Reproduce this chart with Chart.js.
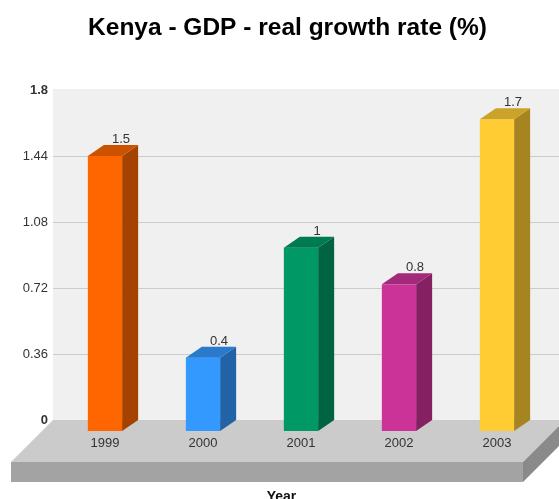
<!DOCTYPE html>
<html>
<head>
<meta charset="utf-8">
<title>Kenya - GDP - real growth rate (%)</title>
<script src="https://cdn.jsdelivr.net/npm/chart.js"></script>
<style>
  html, body { margin: 0; padding: 0; background: #fff; }
</style>
</head>
<body>
<canvas id="chart" width="559" height="499"></canvas>
<script>
// data
const years = ['1999', '2000', '2001', '2002', '2003'];
const growth = [1.5, 0.4, 1, 0.8, 1.7];
const yTicks = [0, 0.36, 0.72, 1.08, 1.44, 1.8];
const barColors = ['#ff6600', '#3399ff', '#009966', '#cc3399', '#ffcc33'];
const chartTitle = 'Kenya - GDP - real growth rate (%)';
const xTitle = 'Year';

const FONT = '"Liberation Sans", Arial, sans-serif';
const DEPTH_X = 16, DEPTH_Y = 11;   // bar depth
const FLOOR = 42;                   // floor depth

// darker shade for the side / top faces
function shade(hex, f) {
  const n = parseInt(hex.slice(1), 16);
  const r = Math.round(((n >> 16) & 255) * f);
  const g = Math.round(((n >> 8) & 255) * f);
  const b = Math.round((n & 255) * f);
  return `rgb(${r},${g},${b})`;
}

function poly(ctx, pts, color) {
  ctx.beginPath();
  ctx.moveTo(pts[0][0], pts[0][1]);
  for (let i = 1; i < pts.length; i++) ctx.lineTo(pts[i][0], pts[i][1]);
  ctx.closePath();
  ctx.fillStyle = color;
  ctx.fill();
}

const scene3d = {
  id: 'scene3d',
  beforeDraw(chart) {
    const { ctx, chartArea, scales: { y } } = chart;
    const zero = y.getPixelForValue(0);
    const left = chartArea.left - 3;
    const max = yTicks[yTicks.length - 1];
    ctx.save();
    // back wall
    ctx.fillStyle = '#f0f0f0';
    ctx.fillRect(left, chartArea.top - 1, chart.width - left, zero - chartArea.top + 1);
    // grid lines
    ctx.strokeStyle = '#cccccc';
    ctx.lineWidth = 1;
    yTicks.forEach(v => {
      if (v <= 0 || v >= max) return;
      const py = Math.round(y.getPixelForValue(v)) + 0.5;
      ctx.beginPath();
      ctx.moveTo(left, py);
      ctx.lineTo(chart.width, py);
      ctx.stroke();
    });
    // floor slab
    const backRight = chartArea.right + 19;
    const fl = left - FLOOR, fr = backRight - FLOOR, fy = zero + FLOOR;
    poly(ctx, [[left, zero], [backRight, zero], [fr, fy], [fl, fy]], '#cbcbcb');
    poly(ctx, [[fl, fy], [fr, fy], [fr, fy + 20], [fl, fy + 20]], '#a3a3a3');
    poly(ctx, [[fr, fy], [backRight, zero], [backRight, zero + 20], [fr, fy + 20]], '#8a8a8a');
    ctx.restore();
  },
  beforeDatasetsDraw(chart) {
    const { ctx } = chart;
    const ds = chart.data.datasets[0];
    const meta = chart.getDatasetMeta(0);
    ctx.save();
    meta.data.forEach((bar, i) => {
      const { x, y, base, width } = bar.getProps(['x', 'y', 'base', 'width'], true);
      const l = x - width / 2, r = x + width / 2;
      const color = ds.backgroundColor[i];
      // front
      ctx.fillStyle = color;
      ctx.fillRect(l, y + DEPTH_Y, width, base - y);
      // side
      poly(ctx, [[r, y + DEPTH_Y], [r + DEPTH_X, y], [r + DEPTH_X, base], [r, base + DEPTH_Y]], shade(color, 0.65));
      // top
      poly(ctx, [[l, y + DEPTH_Y], [l + DEPTH_X, y], [r + DEPTH_X, y], [r, y + DEPTH_Y]], shade(color, 0.8));
      // value label
      ctx.fillStyle = '#333';
      ctx.font = '13px ' + FONT;
      ctx.textAlign = 'center';
      ctx.textBaseline = 'alphabetic';
      ctx.fillText(String(ds.data[i]), x + DEPTH_X, y - 2);
    });
    ctx.restore();
    return false;
  },
  afterDraw(chart) {
    const { ctx } = chart;
    ctx.save();
    ctx.fillStyle = '#111';
    ctx.font = 'bold 14px ' + FONT;
    ctx.textAlign = 'center';
    ctx.textBaseline = 'alphabetic';
    ctx.fillText(xTitle, chart.width / 2 + 2, 501);
    ctx.restore();
  }
};

const chart = new Chart(document.getElementById('chart').getContext('2d'), {
  type: 'bar',
  data: {
    labels: years,
    datasets: [{
      label: 'GDP real growth rate (%)',
      data: growth,
      backgroundColor: barColors,
      categoryPercentage: 1,
      barPercentage: 0.35
    }]
  },
  options: {
    responsive: false,
    animation: false,
    layout: { padding: { left: 16, right: 0, top: 0, bottom: 0 } },
    plugins: {
      legend: { display: false },
      tooltip: { enabled: false },
      title: {
        display: true,
        text: chartTitle,
        color: '#000',
        font: { family: FONT, size: 24.5, weight: 'bold' },
        padding: { top: 14, bottom: 46.6 }
      }
    },
    scales: {
      x: {
        grid: { display: false },
        border: { display: false },
        ticks: { color: '#333', padding: 8, font: { family: FONT, size: 13 } },
        afterFit(scale) { scale.height = 79; }
      },
      y: {
        min: 0,
        max: 1.8,
        grid: { display: false, drawTicks: false },
        border: { display: false },
        afterBuildTicks(scale) { scale.ticks = yTicks.map(v => ({ value: v })); },
        afterFit(scale) { scale.width = 40; },
        ticks: {
          color: '#333',
          padding: 8,
          callback: v => String(v),
          font: c => ({
            family: FONT,
            size: 13,
            weight: c.tick && (c.tick.value === yTicks[0] || c.tick.value === yTicks[yTicks.length - 1]) ? 'bold' : 'normal'
          })
        }
      },
      // empty strip on the right, keeps the plot clear of the edge
      yRight: {
        position: 'right',
        grid: { display: false },
        border: { display: false },
        ticks: { display: false },
        afterFit(scale) { scale.width = 13; }
      }
    }
  },
  plugins: [scene3d]
});
</script>
</body>
</html>
